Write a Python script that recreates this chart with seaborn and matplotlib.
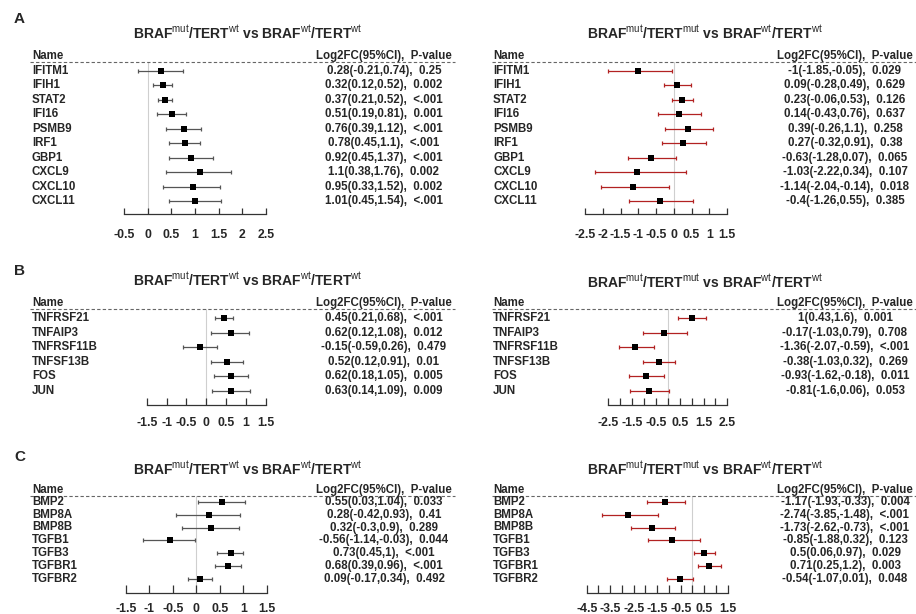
import numpy as np
import pandas as pd
import matplotlib
matplotlib.use("Agg")
import matplotlib.pyplot as plt
import matplotlib.transforms as mtransforms
import seaborn as sns

sns.set_theme(style="white")
plt.rcParams['font.family'] = ['Liberation Sans', 'DejaVu Sans']
plt.rcParams['mathtext.fontset'] = 'custom'
plt.rcParams['mathtext.rm'] = 'Liberation Sans'
plt.rcParams['mathtext.bf'] = 'Liberation Sans:bold'

# ---------------- Data ----------------
genes_a = ["IFITM1", "IFIH1", "STAT2", "IFI16", "PSMB9", "IRF1", "GBP1", "CXCL9", "CXCL10", "CXCL11"]
a1_est = [0.28, 0.32, 0.37, 0.51, 0.76, 0.78, 0.92, 1.1, 0.95, 1.01]
a1_lo = [-0.21, 0.12, 0.21, 0.19, 0.39, 0.45, 0.45, 0.38, 0.33, 0.45]
a1_hi = [0.74, 0.52, 0.52, 0.81, 1.12, 1.1, 1.37, 1.76, 1.52, 1.54]
a1_p = ["0.25", "0.002", "<.001", "0.001", "<.001", "<.001", "<.001", "0.002", "0.002", "<.001"]
a2_est = [-1, 0.09, 0.23, 0.14, 0.39, 0.27, -0.63, -1.03, -1.14, -0.4]
a2_lo = [-1.85, -0.28, -0.06, -0.43, -0.26, -0.32, -1.28, -2.22, -2.04, -1.26]
a2_hi = [-0.05, 0.49, 0.53, 0.76, 1.1, 0.91, 0.07, 0.34, -0.14, 0.55]
a2_p = ["0.029", "0.629", "0.126", "0.637", "0.258", "0.38", "0.065", "0.107", "0.018", "0.385"]

genes_b = ["TNFRSF21", "TNFAIP3", "TNFRSF11B", "TNFSF13B", "FOS", "JUN"]
b1_est = [0.45, 0.62, -0.15, 0.52, 0.62, 0.63]
b1_lo = [0.21, 0.12, -0.59, 0.12, 0.18, 0.14]
b1_hi = [0.68, 1.08, 0.26, 0.91, 1.05, 1.09]
b1_p = ["<.001", "0.012", "0.479", "0.01", "0.005", "0.009"]
b2_est = [1, -0.17, -1.36, -0.38, -0.93, -0.81]
b2_lo = [0.43, -1.03, -2.07, -1.03, -1.62, -1.6]
b2_hi = [1.6, 0.79, -0.59, 0.32, -0.18, 0.06]
b2_p = ["0.001", "0.708", "<.001", "0.269", "0.011", "0.053"]

genes_c = ["BMP2", "BMP8A", "BMP8B", "TGFB1", "TGFB3", "TGFBR1", "TGFBR2"]
c1_est = [0.55, 0.28, 0.32, -0.56, 0.73, 0.68, 0.09]
c1_lo = [0.03, -0.42, -0.3, -1.14, 0.45, 0.39, -0.17]
c1_hi = [1.04, 0.93, 0.9, -0.03, 1, 0.96, 0.34]
c1_p = ["0.033", "0.41", "0.289", "0.044", "<.001", "<.001", "0.492"]
c2_est = [-1.17, -2.74, -1.73, -0.85, 0.5, 0.71, -0.54]
c2_lo = [-1.93, -3.85, -2.62, -1.88, 0.06, 0.25, -1.07]
c2_hi = [-0.33, -1.48, -0.73, 0.32, 0.97, 1.2, 0.01]
c2_p = ["0.004", "<.001", "<.001", "0.123", "0.029", "0.003", "0.048"]

# Axis ticks and labels
a1_ticks = [-0.5, 0, 0.5, 1, 1.5, 2, 2.5]
a1_labels = ["-0.5", "0", "0.5", "1", "1.5", "2", "2.5"]
a2_ticks = [-2.5, -2, -1.5, -1, -0.5, 0, 0.5, 1, 1.5]
a2_labels = ["-2.5", "-2", "-1.5", "-1", "-0.5", "0", "0.5", "1", "1.5"]
b1_ticks = [-1.5, -1, -0.5, 0, 0.5, 1, 1.5]
b1_labels = ["-1.5", "-1", "-0.5", "0", "0.5", "1", "1.5"]
b2_ticks = [-2.5, -2, -1.5, -1, -0.5, 0, 0.5, 1, 1.5, 2, 2.5]
b2_labels = ["-2.5", "", "-1.5", "", "-0.5", "", "0.5", "", "1.5", "", "2.5"]
c1_ticks = [-1.5, -1, -0.5, 0, 0.5, 1, 1.5]
c1_labels = ["-1.5", "-1", "-0.5", "0", "0.5", "1", "1.5"]
c2_ticks = [-4.5, -4, -3.5, -3, -2.5, -2, -1.5, -1, -0.5, 0, 0.5, 1, 1.5]
c2_labels = ["-4.5", "", "-3.5", "", "-2.5", "", "-1.5", "", "-0.5", "", "0.5", "", "1.5"]

title_left = r"BRAF$^{\mathrm{mut}}$/TERT$^{\mathrm{wt}}$ vs BRAF$^{\mathrm{wt}}$/TERT$^{\mathrm{wt}}$"
title_right = r"BRAF$^{\mathrm{mut}}$/TERT$^{\mathrm{mut}}$ vs BRAF$^{\mathrm{wt}}$/TERT$^{\mathrm{wt}}$"

# ---------------- Layout (pixels) ----------------
W, H = 916, 614
LEFT_COL = "#555555"
RIGHT_COL = "#B22222"

panels = [
    dict(genes=genes_a, est=a1_est, lo=a1_lo, hi=a1_hi, p=a1_p, ticks=a1_ticks, labels=a1_labels,
         title=title_left, color=LEFT_COL, x0=124, x1=266, title_x=248, title_y=33,
         name_x=32, text_x=384, dash=(30, 455),
         row0=70.7, step=14.5, dash_y=61.7, axis_y=214, name_y=55.7, pad=10.5, tl=4.5),
    dict(genes=genes_a, est=a2_est, lo=a2_lo, hi=a2_hi, p=a2_p, ticks=a2_ticks, labels=a2_labels,
         title=title_right, color=RIGHT_COL, x0=585, x1=727, title_x=705, title_y=33,
         name_x=493, text_x=845, dash=(492, 916),
         row0=70.7, step=14.5, dash_y=61.7, axis_y=214, name_y=55.7, pad=10.5, tl=4.5),
    dict(genes=genes_b, est=b1_est, lo=b1_lo, hi=b1_hi, p=b1_p, ticks=b1_ticks, labels=b1_labels,
         title=title_left, color=LEFT_COL, x0=146.7, x1=266, title_x=248, title_y=280,
         name_x=32, text_x=384, dash=(30, 455),
         row0=318.3, step=14.5, dash_y=309, axis_y=405, name_y=303, pad=8.5, tl=5),
    dict(genes=genes_b, est=b2_est, lo=b2_lo, hi=b2_hi, p=b2_p, ticks=b2_ticks, labels=b2_labels,
         title=title_right, color=RIGHT_COL, x0=608.3, x1=727.3, title_x=705, title_y=282,
         name_x=493, text_x=845, dash=(492, 916),
         row0=318.3, step=14.5, dash_y=309, axis_y=405, name_y=303, pad=8.5, tl=5),
    dict(genes=genes_c, est=c1_est, lo=c1_lo, hi=c1_hi, p=c1_p, ticks=c1_ticks, labels=c1_labels,
         title=title_left, color=LEFT_COL, x0=125.7, x1=266.7, title_x=248, title_y=469,
         name_x=32, text_x=384, dash=(30, 455),
         row0=501.7, step=12.9, dash_y=496, axis_y=592.7, name_y=490, pad=7.5, tl=5.5),
    dict(genes=genes_c, est=c2_est, lo=c2_lo, hi=c2_hi, p=c2_p, ticks=c2_ticks, labels=c2_labels,
         title=title_right, color=RIGHT_COL, x0=586.7, x1=727.7, title_x=705, title_y=469,
         name_x=493, text_x=845, dash=(492, 916),
         row0=501.7, step=12.9, dash_y=496, axis_y=592.7, name_y=490, pad=7.5, tl=5.5),
]

fig = plt.figure(figsize=(W / 100, H / 100), dpi=100)
fig.patch.set_facecolor("white")

FS = 8.3
for pn in panels:
    ticks = pn["ticks"]
    ax = fig.add_axes([pn["x0"] / W, 1 - pn["axis_y"] / H,
                       (pn["x1"] - pn["x0"]) / W, (pn["axis_y"] - pn["dash_y"]) / H])
    ax.set_facecolor("none")
    n = len(pn["genes"])
    df = pd.DataFrame({"gene": pn["genes"], "est": pn["est"], "lo": pn["lo"],
                       "hi": pn["hi"], "p": pn["p"], "y": np.arange(n)})
    ax.axvline(0, color="#cfcfcf", lw=0.8, zorder=0)
    ax.errorbar(df["est"], df["y"], xerr=[df["est"] - df["lo"], df["hi"] - df["est"]],
                fmt="none", ecolor=pn["color"], elinewidth=0.9, capsize=1.6, capthick=0.9, zorder=2)
    sns.scatterplot(data=df, x="est", y="y", marker="s", s=18, color="black",
                    linewidth=0, ax=ax, zorder=3, legend=False)
    ax.set_xlim(ticks[0], ticks[-1])
    ybot = (pn["axis_y"] - pn["row0"]) / pn["step"]
    ytop = (pn["dash_y"] - pn["row0"]) / pn["step"]
    ax.set_ylim(ybot, ytop)
    ax.set_xlabel("")
    ax.set_ylabel("")
    ax.set_yticks([])
    for s in ["top", "right", "left"]:
        ax.spines[s].set_visible(False)
    ax.spines["bottom"].set_visible(True)
    ax.spines["bottom"].set_color("#333333")
    ax.spines["bottom"].set_linewidth(0.9)
    ax.set_xticks(ticks)
    ax.set_xticklabels(pn["labels"], fontsize=8.8, fontweight="bold")
    ax.tick_params(axis="x", direction="in", length=pn["tl"], width=0.9, color="#333333",
                   pad=pn["pad"], bottom=True, labelbottom=True)

    trans = mtransforms.blended_transform_factory(fig.transFigure, ax.transData)
    for _, r in df.iterrows():
        ax.text(pn["name_x"] / W, r["y"], r["gene"], transform=trans, ha="left", va="center",
                fontsize=FS, fontweight="bold", clip_on=False)
        txt = f"{r['est']:g}({r['lo']:g},{r['hi']:g}),  {r['p']}"
        ax.text(pn["text_x"] / W, r["y"], txt, transform=trans, ha="center", va="center",
                fontsize=FS, fontweight="bold", clip_on=False)
    yh = (pn["name_y"] - pn["row0"]) / pn["step"]
    ax.text(pn["name_x"] / W, yh, "Name", transform=trans, ha="left", va="center",
            fontsize=FS, fontweight="bold", clip_on=False)
    ax.text(pn["text_x"] / W, yh, "Log2FC(95%CI),  P-value", transform=trans, ha="center",
            va="center", fontsize=FS, fontweight="bold", clip_on=False)
    ax.plot([pn["dash"][0] / W, pn["dash"][1] / W], [ytop, ytop], transform=trans,
            ls=(0, (3, 2)), color="#666666", lw=0.8, clip_on=False)
    fig.text(pn["title_x"] / W, 1 - pn["title_y"] / H, pn["title"], ha="center", va="center",
             fontsize=10, fontweight="bold")

for lab, (x, y) in zip(["A", "B", "C"], [(14, 19), (14, 271), (14, 457)]):
    fig.text(x / W, 1 - y / H, lab, ha="left", va="center", fontsize=11, fontweight="bold")

fig.savefig("out.png", dpi=100)
